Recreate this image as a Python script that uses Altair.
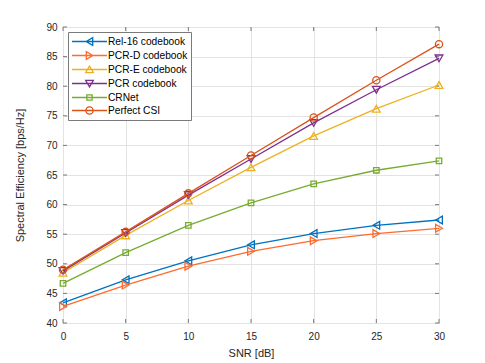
import altair as alt
import pandas as pd

# ---- data ----
snr = [0, 5, 10, 15, 20, 25, 30]
series = ["Rel-16 codebook", "PCR-D codebook", "PCR-E codebook", "PCR codebook", "CRNet", "Perfect CSI"]
rel16 = [43.4, 47.3, 50.5, 53.2, 55.1, 56.5, 57.4]
pcr_d = [42.8, 46.4, 49.6, 52.1, 53.9, 55.1, 56.0]
pcr_e = [48.5, 54.8, 60.7, 66.3, 71.6, 76.2, 80.2]
pcr = [48.8, 55.2, 61.6, 67.7, 73.8, 79.4, 84.7]
crnet = [46.7, 51.9, 56.5, 60.3, 63.5, 65.8, 67.4]
perfect = [49.0, 55.4, 61.9, 68.3, 74.7, 81.0, 87.1]
x_ticks = [0, 5, 10, 15, 20, 25, 30]
y_ticks = [40, 45, 50, 55, 60, 65, 70, 75, 80, 85, 90]

# ---- styles ----
colors = ["#0072BD", "#FF6A2E", "#EDB120", "#7E2F8E", "#77AC30", "#D95319"]
plot_shapes = ["triangle-left", "triangle-right", "triangle-up", "triangle-down", "square", "circle"]
plot_sizes = [60, 60, 60, 60, 30, 52]

# legend symbols: line segment plus marker (unit coordinates)
L = 3.18
circ = "M-0.66,0A0.66,0.66 0 1,1 0.66,0A0.66,0.66 0 1,1 -0.66,0Z"
legend_paths = [
    f"M-{L},0H{L}M-0.62,0L0.58,-0.7L0.58,0.7Z",
    f"M-{L},0H{L}M0.62,0L-0.58,-0.7L-0.58,0.7Z",
    f"M-{L},0H{L}M0,-0.62L-0.7,0.58L0.7,0.58Z",
    f"M-{L},0H{L}M0,0.62L-0.7,-0.58L0.7,-0.58Z",
    f"M-{L},0H{L}M-0.48,-0.48H0.48V0.48H-0.48Z",
    f"M-{L},0H{L}" + circ,
]

values = [rel16, pcr_d, pcr_e, pcr, crnet, perfect]
rows = []
for name, vals in zip(series, values):
    for s, v in zip(snr, vals):
        rows.append({"snr": s, "se": v, "series": name})
df = pd.DataFrame(rows)

W, H = 376, 296
axis_col = "#7a7a7a"
text_col = "#262626"

xscale = alt.Scale(domain=[0, 30], nice=False, zero=False)
yscale = alt.Scale(domain=[40, 90], nice=False, zero=False)
cscale = alt.Scale(domain=series, range=colors)

x_axis = alt.Axis(values=x_ticks, title="SNR [dB]", labelPadding=8, titlePadding=6, labelFlush=False)
y_axis = alt.Axis(values=y_ticks, title="Spectral Efficiency [bps/Hz]", labelPadding=6,
                  titlePadding=20, labelFlush=False)
x_enc = alt.X("snr:Q", scale=xscale, axis=x_axis)
y_enc = alt.Y("se:Q", scale=yscale, axis=y_axis)

base = alt.Chart(df)
layers = []
for name, col, shp, sz in zip(series, colors, plot_shapes, plot_sizes):
    layers.append(
        base.transform_filter(alt.datum.series == name)
        .mark_line(strokeWidth=1.3, color=col,
                   point=alt.OverlayMarkDef(shape=shp, filled=False, size=sz, strokeWidth=1.3,
                                            color=col))
        .encode(x=x_enc, y=y_enc)
    )

leg = alt.Legend(title=None, orient="none", legendX=5, legendY=5, symbolSize=121,
                 symbolOffset=12, labelOffset=12, symbolStrokeWidth=1.3, symbolOpacity=1,
                 symbolFillColor="transparent", labelFontSize=10.2, labelColor="#000000",
                 strokeColor=axis_col, fillColor="white", padding=3, rowPadding=1.0,
                 labelLimit=200)
legend_layer = base.mark_point(opacity=0, filled=False).encode(
    x=x_enc, y=y_enc,
    color=alt.Color("series:N", scale=cscale, legend=leg),
    shape=alt.Shape("series:N", scale=alt.Scale(domain=series, range=legend_paths), legend=leg),
)

xt = alt.Chart(pd.DataFrame({"t": x_ticks}))
yt = alt.Chart(pd.DataFrame({"v": y_ticks}))
tick_x = alt.X("t:Q", scale=xscale, axis=x_axis)
tick_y = alt.Y("v:Q", scale=yscale, axis=y_axis)
ticks = [
    xt.mark_rule(color=axis_col, strokeWidth=1).encode(x=tick_x, y=alt.value(H), y2=alt.value(H - 4)),
    xt.mark_rule(color=axis_col, strokeWidth=1).encode(x=tick_x, y=alt.value(0), y2=alt.value(4)),
    yt.mark_rule(color=axis_col, strokeWidth=1).encode(y=tick_y, x=alt.value(0), x2=alt.value(4)),
    yt.mark_rule(color=axis_col, strokeWidth=1).encode(y=tick_y, x=alt.value(W), x2=alt.value(W - 4)),
]

chart = alt.layer(legend_layer, *ticks, *layers).properties(
    width=W, height=H,
    autosize=alt.AutoSizeParams(type="none"),
    padding={"left": 55, "top": 19, "right": 20, "bottom": 36},
).configure(
    font="Liberation Sans",
).configure_view(
    stroke=axis_col, strokeWidth=1,
).configure_axis(
    domain=False, ticks=False, tickSize=0, grid=True, gridColor="#e3e3e3", gridWidth=1,
    labelFontSize=10, labelColor=text_col, titleFontSize=11, titleFontWeight="normal",
    titleColor=text_col, labelFont="Liberation Sans", titleFont="Liberation Sans",
)

chart.save("out.html", embed_options={"renderer": "svg", "actions": False})
